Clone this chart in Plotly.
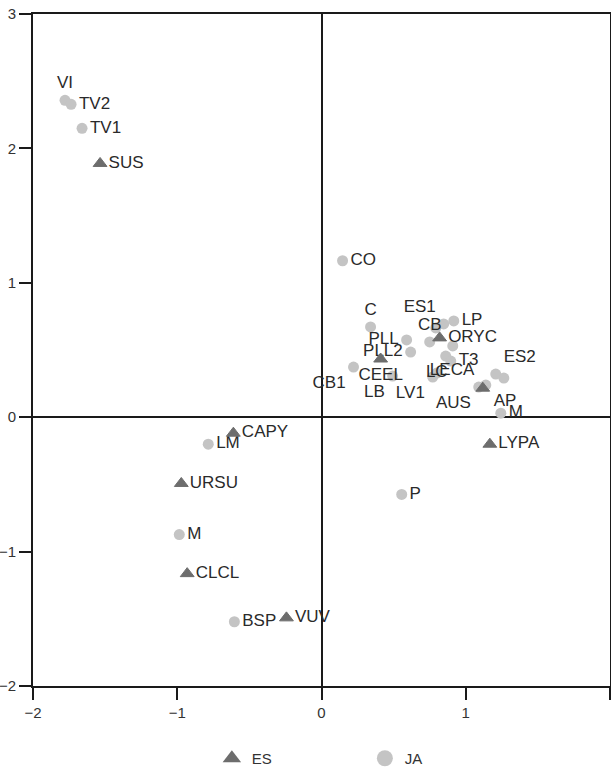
import plotly.graph_objects as go

# ES (triangles)
es_labels = ["SUS", "ORYC", "CEEL", "LECA", "LYPA", "CAPY", "URSU", "CLCL", "VUV"]
es_x = [-1.535, 0.819, 0.410, 1.118, 1.167, -0.611, -0.972, -0.931, -0.243]
es_y = [1.888, 0.590, 0.433, 0.216, -0.201, -0.119, -0.493, -1.164, -1.493]

# JA (circles)
ja_labels = ["VI", "TV2", "TV1", "CO", "C", "", "ES1", "LP", "CB", "PLL", "PLL2",
             "", "T3", "", "ES2", "", "CB1", "LB", "LC", "LV1", "AUS", "AP",
             "M", "P", "LM", "M", "BSP"]
ja_x = [-1.778, -1.736, -1.660, 0.146, 0.340, 0.792, 0.847, 0.917, 0.750, 0.590, 0.618,
        0.861, 0.896, 0.910, 1.208, 1.264, 0.222, 0.493, 0.799, 0.771, 1.090, 1.139,
        1.243, 0.556, -0.785, -0.986, -0.604]
ja_y = [2.358, 2.328, 2.149, 1.164, 0.672, 0.664, 0.694, 0.716, 0.560, 0.575, 0.485,
        0.455, 0.418, 0.530, 0.321, 0.291, 0.373, 0.306, 0.328, 0.299, 0.224, 0.239,
        0.030, -0.575, -0.201, -0.873, -1.522]

x_ticks = [-2, -1, 0, 1, 2]
y_ticks = [-2, -1, 0, 1, 2, 3]

# label placement (style)
es_pos = ["middle right", "middle right", "bottom center", "top left", "middle right",
          "middle right", "middle right", "middle right", "middle right"]
ja_pos = ["top center", "middle right", "middle right", "middle right", "top center",
          "middle right", "top left", "middle right", "top center", "middle left",
          "middle left", "middle right", "middle right", "middle right", "top right",
          "middle right", "bottom left", "bottom left", "middle center", "bottom left",
          "bottom left", "bottom right", "middle right", "middle right", "middle right",
          "middle right", "middle right"]

FONT = "Liberation Sans, Arial, sans-serif"
LIGHT = "#c4c4c4"
DARK = "#6d6d6d"

fig = go.Figure()
fig.add_trace(go.Scatter(
    x=ja_x, y=ja_y, mode="markers+text", text=ja_labels, textposition=ja_pos,
    marker=dict(symbol="circle", size=11, color=LIGHT),
    textfont=dict(family=FONT, size=17, color="#2a2a2a"),
    showlegend=False, cliponaxis=False))
fig.add_trace(go.Scatter(
    x=es_x, y=es_y, mode="markers+text", text=es_labels, textposition=es_pos,
    marker=dict(symbol="triangle-up", size=12, color=DARK, line=dict(width=1, color=DARK)),
    textfont=dict(family=FONT, size=17, color="#2a2a2a"),
    showlegend=False, cliponaxis=False))

# legend entries
fig.add_trace(go.Scatter(x=[None], y=[None], mode="markers", name="ES",
                         marker=dict(symbol="triangle-up", size=16, color=DARK)))
fig.add_trace(go.Scatter(x=[None], y=[None], mode="markers", name="JA",
                         marker=dict(symbol="circle", size=18, color=LIGHT)))

axis_common = dict(showgrid=False, zeroline=True, zerolinecolor="#1a1a1a", zerolinewidth=2,
                   showline=True, linecolor="#1a1a1a", linewidth=2, mirror=True,
                   ticks="outside", ticklen=12, tickwidth=2, tickcolor="#1a1a1a",
                   automargin=False,
                   tickfont=dict(family=FONT, size=15, color="#333333"))

fig.update_xaxes(range=[-2, 2], tickvals=x_ticks, **axis_common)
fig.update_yaxes(range=[-2, 3], tickvals=y_ticks, **axis_common)

fig.update_layout(
    width=611, height=767,
    margin=dict(l=33, r=1, t=14, b=81, autoexpand=False),
    paper_bgcolor="white", plot_bgcolor="white",
    legend=dict(orientation="h", x=0.310, xanchor="left", y=-0.1324, yanchor="bottom",
                font=dict(family=FONT, size=15, color="#333333"),
                entrywidth=108, itemsizing="trace"),
)

fig.write_html(
    "out.html",
    config={"displayModeBar": False},
    post_script=("document.body.style.margin='0';document.body.style.overflow='hidden';"
                 "document.documentElement.style.overflow='hidden';"),
)
